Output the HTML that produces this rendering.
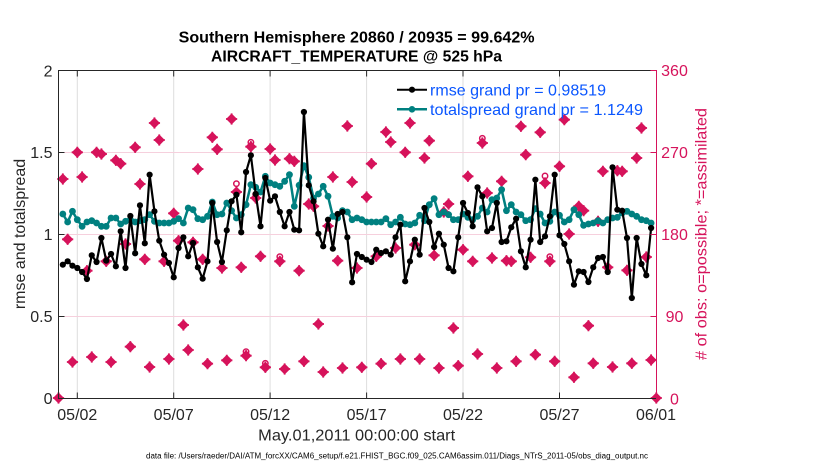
<!DOCTYPE html>
<html><head><meta charset="utf-8">
<style>
html,body{margin:0;padding:0;background:#fff;}
svg{display:block;font-family:"Liberation Sans",Arial,Helvetica,sans-serif;}
</style></head><body>
<svg id="c" width="830" height="470" viewBox="0 0 830 470" xmlns="http://www.w3.org/2000/svg">
<rect width="830" height="470" fill="#fff"/>
<!-- grid -->
<g stroke="#dedede" stroke-width="1">
<line x1="77.3" y1="70.5" x2="77.3" y2="398.5"/>
<line x1="173.7" y1="70.5" x2="173.7" y2="398.5"/>
<line x1="270.1" y1="70.5" x2="270.1" y2="398.5"/>
<line x1="366.6" y1="70.5" x2="366.6" y2="398.5"/>
<line x1="463" y1="70.5" x2="463" y2="398.5"/>
<line x1="559.5" y1="70.5" x2="559.5" y2="398.5"/>
</g>
<g stroke="#f6d0dd" stroke-width="1">
<line x1="58.5" y1="152.5" x2="656.5" y2="152.5"/>
<line x1="58.5" y1="234.5" x2="656.5" y2="234.5"/>
<line x1="58.5" y1="316.5" x2="656.5" y2="316.5"/>
</g>
<g id="data"></g>
<!-- axes -->
<g stroke="#262626" stroke-width="1" fill="none">
<line x1="58.5" y1="70.5" x2="656.5" y2="70.5"/>
<line x1="58.5" y1="398.5" x2="656.5" y2="398.5"/>
<line x1="58.5" y1="70" x2="58.5" y2="399"/>
<line x1="58.5" y1="152.5" x2="64.5" y2="152.5"/>
<line x1="58.5" y1="234.5" x2="64.5" y2="234.5"/>
<line x1="58.5" y1="316.5" x2="64.5" y2="316.5"/>
<line x1="77.3" y1="398.5" x2="77.3" y2="392.5"/>
<line x1="173.7" y1="398.5" x2="173.7" y2="392.5"/>
<line x1="270.1" y1="398.5" x2="270.1" y2="392.5"/>
<line x1="366.6" y1="398.5" x2="366.6" y2="392.5"/>
<line x1="463" y1="398.5" x2="463" y2="392.5"/>
<line x1="559.5" y1="398.5" x2="559.5" y2="392.5"/>
<line x1="77.3" y1="70.5" x2="77.3" y2="76.5"/>
<line x1="173.7" y1="70.5" x2="173.7" y2="76.5"/>
<line x1="270.1" y1="70.5" x2="270.1" y2="76.5"/>
<line x1="366.6" y1="70.5" x2="366.6" y2="76.5"/>
<line x1="463" y1="70.5" x2="463" y2="76.5"/>
<line x1="559.5" y1="70.5" x2="559.5" y2="76.5"/>
</g>
<g stroke="#d6135b" stroke-width="1" fill="none">
<line x1="656.5" y1="70" x2="656.5" y2="399"/>
<line x1="650.5" y1="70.5" x2="656.5" y2="70.5"/>
<line x1="650.5" y1="152.5" x2="656.5" y2="152.5"/>
<line x1="650.5" y1="234.5" x2="656.5" y2="234.5"/>
<line x1="650.5" y1="316.5" x2="656.5" y2="316.5"/>
</g>
<!-- left tick labels -->
<g font-size="16" fill="#262626" text-anchor="end">
<text x="52.5" y="76.5">2</text>
<text x="52.5" y="158">1.5</text>
<text x="52.5" y="240">1</text>
<text x="52.5" y="322">0.5</text>
<text x="52.5" y="404">0</text>
</g>
<!-- right tick labels -->
<g font-size="16" fill="#d6135b" text-anchor="middle">
<text x="674.5" y="76">360</text>
<text x="674.5" y="158">270</text>
<text x="674.5" y="240">180</text>
<text x="674.5" y="322">90</text>
<text x="674.5" y="404.5">0</text>
</g>
<!-- bottom tick labels -->
<g font-size="16" fill="#262626" text-anchor="middle">
<text x="77.3" y="420">05/02</text>
<text x="173.7" y="420">05/07</text>
<text x="270.1" y="420">05/12</text>
<text x="366.6" y="420">05/17</text>
<text x="463" y="420">05/22</text>
<text x="559.5" y="420">05/27</text>
<text x="656" y="420">06/01</text>
</g>
<text x="356.7" y="440.5" font-size="16" fill="#262626" text-anchor="middle" textLength="197" lengthAdjust="spacingAndGlyphs">May.01,2011 00:00:00 start</text>
<text x="146" y="458.5" font-size="8" fill="#000" textLength="502" lengthAdjust="spacingAndGlyphs">data file: /Users/raeder/DAI/ATM_forcXX/CAM6_setup/f.e21.FHIST_BGC.f09_025.CAM6assim.011/Diags_NTrS_2011-05/obs_diag_output.nc</text>
<!-- titles -->
<text x="356.6" y="42.7" font-size="16" font-weight="bold" fill="#000" text-anchor="middle" textLength="356" lengthAdjust="spacingAndGlyphs">Southern Hemisphere 20860 / 20935 = 99.642%</text>
<text x="356.5" y="61.3" font-size="16" font-weight="bold" fill="#000" text-anchor="middle" textLength="291" lengthAdjust="spacingAndGlyphs">AIRCRAFT_TEMPERATURE @ 525 hPa</text>
<!-- axis labels -->
<text transform="translate(25,234) rotate(-90)" font-size="16" fill="#262626" text-anchor="middle">rmse and totalspread</text>
<text transform="translate(706.5,234) rotate(-90)" font-size="16" fill="#d6135b" text-anchor="middle" textLength="252" lengthAdjust="spacingAndGlyphs"># of obs: o=possible; *=assimilated</text>
<!-- legend -->
<g>
<line x1="397" y1="89.7" x2="427" y2="89.7" stroke="#000" stroke-width="2"/>
<circle cx="412" cy="89.7" r="3.1" fill="#000"/>
<line x1="397" y1="109.3" x2="427" y2="109.3" stroke="#008080" stroke-width="2.5"/>
<circle cx="412" cy="109.3" r="3.3" fill="#008080"/>
<text x="430" y="95.3" font-size="16" fill="#0a56ff" textLength="176" lengthAdjust="spacingAndGlyphs">rmse grand pr = 0.98519</text>
<text x="430" y="115" font-size="16" fill="#0a56ff" textLength="213" lengthAdjust="spacingAndGlyphs">totalspread grand pr = 1.1249</text>
</g>
</svg>
<script>
(function(){
var NS="http://www.w3.org/2000/svg";
function X(k){return 58.0+4.822*k;}
function Y(p){return 68+p/3;}
var B=[590,580,593,600,612,633,562,582,510,578,558,595,490,600,444,556,412,526,320,430,518,560,585,628,540,508,565,525,598,632,580,
405,522,582,487,400,380,493,312,262,378,475,330,398,385,432,475,432,485,487,132,352,400,497,535,455,542,438,432,508,643,558,
567,575,582,545,555,550,560,508,470,640,580,515,560,420,462,537,497,530,600,610,508,405,435,475,358,385,490,480,405,522,520,
478,452,550,598,515,335,522,505,445,320,502,528,580,650,610,612,642,598,570,567,612,298,425,428,510,690,510,588,622,480];
var T=[438,462,430,455,475,462,458,465,475,475,450,450,468,460,455,462,458,455,440,460,465,465,465,460,452,465,420,425,452,455,445,
402,440,438,405,428,450,440,410,350,358,372,325,345,350,355,340,320,415,352,293,328,390,378,355,385,445,450,428,432,455,450,
455,462,462,462,462,452,470,462,448,468,470,465,442,458,410,392,440,432,440,455,455,438,448,455,445,420,432,395,390,365,428,
410,432,440,458,455,422,438,465,460,432,442,462,455,425,440,472,468,465,458,465,455,450,448,435,430,438,445,455,458,465];
var R=[333,514,882,253,327,608,867,253,258,580,882,277,287,528,836,238,348,574,897,165,216,580,873,436,518,771,846,523,303,574,887,
208,244,600,877,153,372,598,863,236,390,565,898,243,276,580,903,272,280,608,880,408,415,768,912,474,327,578,900,174,342,600,
898,387,287,565,887,192,222,540,873,253,165,530,873,270,218,562,900,432,408,780,893,545,325,580,858,225,375,570,900,340,578,
580,880,175,260,568,860,193,345,580,880,295,155,498,928,415,428,773,886,460,310,598,897,308,310,607,886,270,180,567,876];
var O={37:347,39:851,40:223,41:379,43:886,46:566,88:211,101:324,102:566};
var g=document.getElementById('data');
function el(tag,a){var e=document.createElementNS(NS,tag);for(var k in a)e.setAttribute(k,a[k]);g.appendChild(e);return e;}
var red="#d6135b";
function star(x,y){
  el('path',{d:'M'+x+' '+(y-5)+'L'+(x+5)+' '+y+'L'+x+' '+(y+5)+'L'+(x-5)+' '+y+'Z',fill:red,stroke:red,'stroke-width':0.8,'stroke-linejoin':'round'});
  el('path',{d:'M'+(x-5.6)+' '+y+'H'+(x+5.6)+'M'+x+' '+(y-5.6)+'V'+(y+5.6),stroke:red,'stroke-width':1.8,fill:'none'});
}
star(58.5,398);
star(656.3,398);
var i,k;
for(i=0;i<R.length;i++){k=i+1;star(X(k),Y(R[i]));}
for(var kk in O){el('circle',{cx:X(+kk),cy:Y(O[kk]),r:2.7,fill:'none',stroke:red,'stroke-width':1.5});}
var pts=[];
for(i=0;i<T.length;i++){pts.push(X(i+1).toFixed(2)+','+Y(T[i]).toFixed(2));}
el('polyline',{points:pts.join(' '),fill:'none',stroke:'#008080','stroke-width':2.5,'stroke-linejoin':'round'});
for(i=0;i<T.length;i++){el('circle',{cx:X(i+1),cy:Y(T[i]),r:3.4,fill:'#008080'});}
pts=[];
for(i=0;i<B.length;i++){pts.push(X(i+1).toFixed(2)+','+Y(B[i]).toFixed(2));}
el('polyline',{points:pts.join(' '),fill:'none',stroke:'#000','stroke-width':2.2,'stroke-linejoin':'round'});
for(i=0;i<B.length;i++){el('circle',{cx:X(i+1),cy:Y(B[i]),r:3.1,fill:'#000'});}
})();
</script>
</body></html>
